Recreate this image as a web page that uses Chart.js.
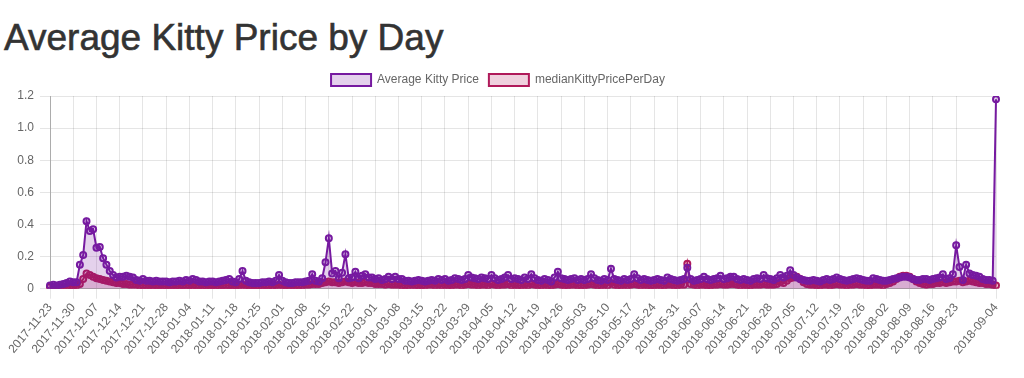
<!DOCTYPE html>
<html>
<head>
<meta charset="utf-8">
<script src="https://cdn.jsdelivr.net/npm/chart.js@4.4.0/dist/chart.umd.min.js"></script>
<style>
  html, body { margin: 0; padding: 0; background: #fff; }
  h1 { position: absolute; left: 4px; top: 0; margin: 0; line-height: 1; padding-top: 19px;
       font-family: "Liberation Sans", Arial, sans-serif; font-weight: normal; font-size: 37px; color: #333;
       -webkit-text-stroke: 0.6px #333; }
  #wrap { position: absolute; left: 0; top: 64px; width: 1012px; height: 295px; }
</style>
</head>
<body>
<h1>Average Kitty Price by Day</h1>
<div id="wrap"><canvas id="c"></canvas></div>
<script>
// Days from 2017-11-23 to 2018-09-04
const startDate = "2017-11-23";
const endDate = "2018-09-04";
const categories = [];
(function () {
  const d = new Date(startDate + "T00:00:00Z");
  const e = new Date(endDate + "T00:00:00Z");
  while (d <= e) { categories.push(d.toISOString().slice(0, 10)); d.setUTCDate(d.getUTCDate() + 1); }
})();

const averageKittyPrice = [
  0.02,0.025,0.02,0.025,0.03,0.035,0.045,
  0.04,0.04,0.15,0.21,0.42,0.36,0.37,
  0.255,0.26,0.19,0.15,0.11,0.085,0.07,
  0.075,0.075,0.08,0.075,0.07,0.055,0.05,
  0.06,0.05,0.05,0.045,0.05,0.045,0.045,
  0.045,0.04,0.045,0.045,0.05,0.045,0.055,
  0.05,0.06,0.055,0.045,0.045,0.04,0.045,
  0.045,0.04,0.045,0.05,0.055,0.06,0.045,
  0.04,0.06,0.11,0.05,0.04,0.035,0.035,
  0.035,0.04,0.04,0.045,0.04,0.05,0.085,
  0.05,0.04,0.035,0.035,0.04,0.04,0.04,
  0.045,0.05,0.09,0.05,0.045,0.065,0.165,
  0.315,0.095,0.11,0.065,0.1,0.215,0.065,
  0.07,0.105,0.065,0.08,0.09,0.07,0.07,
  0.06,0.065,0.055,0.06,0.075,0.06,0.075,
  0.06,0.06,0.05,0.05,0.045,0.05,0.055,
  0.05,0.045,0.05,0.055,0.05,0.06,0.055,
  0.06,0.05,0.055,0.065,0.06,0.055,0.06,
  0.085,0.07,0.065,0.06,0.07,0.065,0.06,
  0.085,0.065,0.055,0.06,0.07,0.085,0.06,
  0.065,0.06,0.055,0.07,0.06,0.09,0.065,
  0.055,0.05,0.06,0.055,0.045,0.07,0.105,
  0.065,0.06,0.055,0.06,0.065,0.055,0.06,
  0.055,0.06,0.09,0.065,0.055,0.05,0.06,
  0.055,0.125,0.06,0.055,0.05,0.06,0.055,
  0.06,0.09,0.065,0.055,0.06,0.055,0.05,
  0.055,0.06,0.055,0.05,0.07,0.06,0.055,
  0.05,0.055,0.06,0.13,0.06,0.05,0.055,
  0.06,0.075,0.06,0.055,0.06,0.065,0.08,
  0.06,0.065,0.075,0.075,0.06,0.055,0.06,
  0.055,0.05,0.06,0.065,0.06,0.085,0.065,
  0.06,0.055,0.065,0.085,0.07,0.08,0.115,
  0.085,0.07,0.06,0.055,0.05,0.05,0.055,
  0.05,0.045,0.055,0.06,0.055,0.06,0.07,
  0.06,0.055,0.05,0.055,0.06,0.065,0.06,
  0.055,0.05,0.05,0.065,0.06,0.055,0.05,
  0.05,0.055,0.06,0.065,0.07,0.075,0.075,
  0.07,0.06,0.055,0.055,0.06,0.06,0.055,
  0.06,0.065,0.07,0.09,0.06,0.065,0.09,
  0.27,0.135,0.055,0.15,0.095,0.085,0.08,
  0.075,0.06,0.055,0.055,0.05,1.18
];

const medianKittyPricePerDay = [
  0.01,0.01,0.01,0.01,0.01,0.01,0.015,
  0.015,0.02,0.03,0.06,0.095,0.085,0.075,
  0.065,0.06,0.055,0.05,0.045,0.04,0.035,
  0.035,0.03,0.03,0.025,0.025,0.025,0.02,
  0.02,0.02,0.02,0.015,0.02,0.02,0.015,
  0.015,0.02,0.02,0.015,0.015,0.02,0.02,
  0.02,0.015,0.02,0.02,0.015,0.015,0.02,
  0.02,0.015,0.015,0.02,0.02,0.02,0.015,
  0.015,0.02,0.025,0.02,0.015,0.015,0.015,
  0.015,0.015,0.02,0.02,0.015,0.02,0.025,
  0.02,0.02,0.015,0.02,0.02,0.02,0.02,
  0.025,0.025,0.03,0.03,0.03,0.035,0.04,
  0.045,0.04,0.04,0.035,0.04,0.045,0.04,
  0.035,0.04,0.035,0.035,0.04,0.035,0.035,
  0.03,0.03,0.03,0.025,0.03,0.025,0.025,
  0.025,0.02,0.02,0.02,0.025,0.02,0.02,
  0.02,0.02,0.025,0.025,0.02,0.025,0.02,
  0.025,0.02,0.02,0.025,0.025,0.02,0.025,
  0.03,0.025,0.025,0.02,0.025,0.025,0.02,
  0.03,0.025,0.02,0.025,0.025,0.03,0.02,
  0.025,0.02,0.02,0.025,0.02,0.03,0.025,
  0.02,0.02,0.025,0.02,0.02,0.025,0.03,
  0.025,0.02,0.02,0.025,0.025,0.02,0.02,
  0.02,0.025,0.03,0.025,0.02,0.02,0.025,
  0.02,0.035,0.025,0.02,0.02,0.025,0.02,
  0.025,0.03,0.025,0.02,0.025,0.02,0.02,
  0.02,0.025,0.02,0.02,0.025,0.025,0.02,
  0.02,0.025,0.025,0.155,0.03,0.025,0.02,
  0.025,0.025,0.02,0.02,0.025,0.025,0.03,
  0.025,0.025,0.03,0.03,0.025,0.02,0.025,
  0.02,0.02,0.025,0.025,0.025,0.03,0.025,
  0.025,0.025,0.03,0.04,0.035,0.05,0.065,
  0.07,0.075,0.06,0.04,0.03,0.025,0.025,
  0.02,0.02,0.025,0.025,0.02,0.025,0.03,
  0.025,0.025,0.02,0.025,0.025,0.03,0.025,
  0.025,0.02,0.02,0.025,0.025,0.025,0.02,
  0.03,0.035,0.045,0.06,0.075,0.08,0.08,
  0.075,0.06,0.045,0.035,0.03,0.025,0.03,
  0.03,0.035,0.035,0.04,0.035,0.04,0.045,
  0.045,0.05,0.04,0.045,0.05,0.045,0.04,
  0.035,0.035,0.03,0.03,0.025,0.02
];

const yTicks = [0, 0.2, 0.4, 0.6, 0.8, 1.0, 1.2];
const tickEvery = 7;

const avgColor = 'rgb(118, 26, 160)';
const avgFill = 'rgba(118, 26, 160, 0.2)';
const medColor = 'rgb(176, 26, 90)';
const medFill = 'rgba(176, 26, 90, 0.2)';

Chart.defaults.font.family = "'Liberation Sans', Arial, Helvetica, sans-serif";
Chart.defaults.font.size = 12;
Chart.defaults.color = '#666';

const n = categories.length;
new Chart(document.getElementById('c'), {
  type: 'line',
  data: {
    labels: categories,
    datasets: [
      {
        label: 'Average Kitty Price',
        data: averageKittyPrice,
        borderColor: avgColor,
        backgroundColor: avgFill,
        pointBackgroundColor: avgFill,
        pointBorderColor: avgColor,
        borderWidth: 2,
        pointRadius: 3,
        pointBorderWidth: 2,
        tension: 0,
        fill: 'origin'
      },
      {
        label: 'medianKittyPricePerDay',
        data: medianKittyPricePerDay,
        borderColor: medColor,
        backgroundColor: medFill,
        pointBackgroundColor: medFill,
        pointBorderColor: medColor,
        borderWidth: 2,
        pointRadius: 3,
        pointBorderWidth: 2,
        tension: 0,
        fill: 'origin'
      }
    ]
  },
  options: {
    animation: false,
    responsive: true,
    maintainAspectRatio: false,
    layout: { padding: { left: 0, right: 16, top: 0, bottom: 0 } },
    plugins: {
      legend: {
        labels: { boxWidth: 40, boxHeight: 12, color: '#666', font: { size: 12 } }
      },
      tooltip: { enabled: false }
    },
    scales: {
      x: {
        afterBuildTicks: (scale) => {
          scale.ticks = scale.ticks.filter(t =>
            (t.value % tickEvery === 0 && t.value + tickEvery < n) || t.value === n - 1);
        },
        ticks: { autoSkip: false, minRotation: 50, maxRotation: 50, color: '#666', padding: 2 },
        grid: { color: 'rgba(0,0,0,0.1)', tickLength: 10 },
        border: { color: 'rgba(0,0,0,0.25)' }
      },
      y: {
        min: 0,
        max: 1.2,
        afterBuildTicks: (scale) => { scale.ticks = yTicks.map(v => ({ value: v })); },
        afterFit: (scale) => { scale.width = 50; },
        ticks: {
          color: '#666',
          padding: 6,
          callback: (v) => v === 0 ? '0' : v.toFixed(1)
        },
        grid: { color: 'rgba(0,0,0,0.1)', tickLength: 10 },
        border: { color: 'rgba(0,0,0,0.25)' }
      }
    }
  }
});
</script>
</body>
</html>
